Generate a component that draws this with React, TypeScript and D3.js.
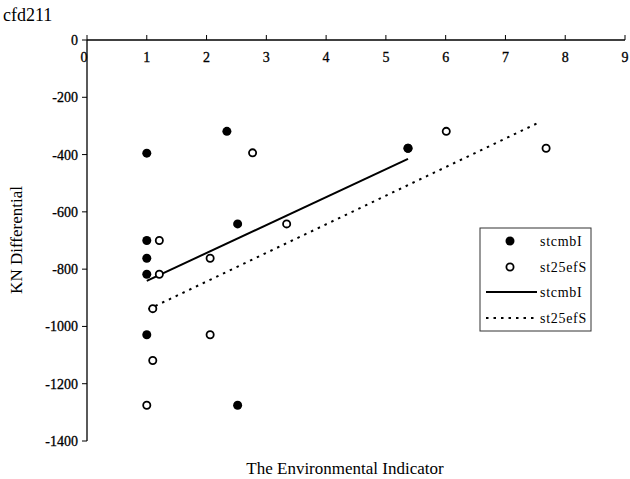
import { useEffect, useRef } from 'react'
import * as d3 from 'd3'

const FILLED_X = [1, 2.34, 2.52, 1, 1, 1, 1, 2.52, 5.37]
const FILLED_Y = [-395, -319, -642, -700, -762, -818, -1029, -1275, -378]
const OPEN_X = [2.77, 1.21, 2.06, 3.34, 1.21, 1.1, 2.06, 1.1, 1.0, 6.01, 7.68, 5.37]
const OPEN_Y = [-394, -700, -762, -642, -818, -938, -1029, -1119, -1275, -319, -378, -378]
const TREND_SOLID = [[1, -841], [5.37, -415]]
const TREND_DOTTED = [[1.03, -940], [7.59, -285]]
const X_TICKS = [0, 1, 2, 3, 4, 5, 6, 7, 8, 9]
const Y_TICKS = [0, -200, -400, -600, -800, -1000, -1200, -1400]
const LEGEND = ['stcmbI', 'st25efS', 'stcmbI', 'st25efS']

export default function App() {
  const svgRef = useRef<SVGSVGElement>(null)

  useEffect(() => {
    const svg = d3.select(svgRef.current)
    svg.selectAll('*').remove()
    const font = '"Liberation Serif", "Times New Roman", serif'

    const x = d3.scaleLinear().domain([0, 9]).range([87, 625])
    const y = d3.scaleLinear().domain([0, -1400]).range([40, 441])

    svg.append('text').attr('x', 3).attr('y', 21)
      .attr('font-family', font).attr('font-size', 18).text('cfd211')

    // axes
    svg.append('line').attr('x1', x(0)).attr('x2', x(9)).attr('y1', y(0)).attr('y2', y(0))
      .attr('stroke', '#000').attr('stroke-width', 1.3)
    svg.append('line').attr('x1', x(0)).attr('x2', x(0)).attr('y1', y(0)).attr('y2', y(-1400))
      .attr('stroke', '#000').attr('stroke-width', 1.3)

    X_TICKS.forEach((t) => {
      svg.append('line').attr('x1', x(t)).attr('x2', x(t)).attr('y1', y(0)).attr('y2', y(0) - 5)
        .attr('stroke', '#000')
      svg.append('text').attr('x', x(t) - (t === 0 ? 3 : 0)).attr('y', 62)
        .attr('text-anchor', 'middle').attr('font-family', font).attr('font-size', 14)
        .attr('stroke', '#000').attr('stroke-width', 0.3)
        .text(t)
    })
    Y_TICKS.forEach((t) => {
      svg.append('line').attr('x1', x(0) - 5).attr('x2', x(0)).attr('y1', y(t)).attr('y2', y(t))
        .attr('stroke', '#000')
      svg.append('text').attr('x', x(0) - 9).attr('y', y(t) + 5)
        .attr('text-anchor', 'end').attr('font-family', font).attr('font-size', 14)
        .attr('stroke', '#000').attr('stroke-width', 0.3)
        .text(t)
    })

    svg.append('text').attr('x', 345).attr('y', 474).attr('text-anchor', 'middle')
      .attr('font-family', font).attr('font-size', 17).text('The Environmental Indicator')
    svg.append('text').attr('transform', 'translate(22,240) rotate(-90)')
      .attr('text-anchor', 'middle').attr('font-family', font).attr('font-size', 17)
      .text('KN Differential')

    const line = d3.line<number[]>().x((d) => x(d[0])).y((d) => y(d[1]))
    svg.append('path').attr('d', line(TREND_SOLID)).attr('fill', 'none')
      .attr('stroke', '#000').attr('stroke-width', 2)
    svg.append('path').attr('d', line(TREND_DOTTED)).attr('fill', 'none')
      .attr('stroke', '#000').attr('stroke-width', 2).attr('stroke-dasharray', '2.5,5')

    OPEN_X.forEach((v, i) => {
      svg.append('circle').attr('cx', x(v)).attr('cy', y(OPEN_Y[i])).attr('r', 3.6)
        .attr('fill', '#fff').attr('stroke', '#000').attr('stroke-width', 1.8)
    })
    FILLED_X.forEach((v, i) => {
      svg.append('circle').attr('cx', x(v)).attr('cy', y(FILLED_Y[i])).attr('r', 4.5)
        .attr('fill', '#000')
    })

    // legend
    const lg = svg.append('g')
    lg.append('rect').attr('x', 480).attr('y', 228).attr('width', 111).attr('height', 103)
      .attr('fill', '#fff').attr('stroke', '#333').attr('stroke-width', 1)
    const ly = [241, 267, 292, 318]
    LEGEND.forEach((name, i) => {
      lg.append('text').attr('x', 540).attr('y', ly[i] + 5).attr('font-family', font)
        .attr('font-size', 14).attr('letter-spacing', 0.7).text(name)
    })
    lg.append('circle').attr('cx', 510).attr('cy', ly[0]).attr('r', 4.5).attr('fill', '#000')
    lg.append('circle').attr('cx', 510).attr('cy', ly[1]).attr('r', 3.6)
      .attr('fill', '#fff').attr('stroke', '#000').attr('stroke-width', 1.8)
    lg.append('line').attr('x1', 486).attr('x2', 537).attr('y1', ly[2]).attr('y2', ly[2])
      .attr('stroke', '#000').attr('stroke-width', 2)
    lg.append('line').attr('x1', 486).attr('x2', 537).attr('y1', ly[3]).attr('y2', ly[3])
      .attr('stroke', '#000').attr('stroke-width', 2).attr('stroke-dasharray', '2.5,5')
  }, [])

  return (
    <svg ref={svgRef} width={630} height={479}
      style={{ position: 'absolute', left: 0, top: 0, background: '#fff' }} />
  )
}
